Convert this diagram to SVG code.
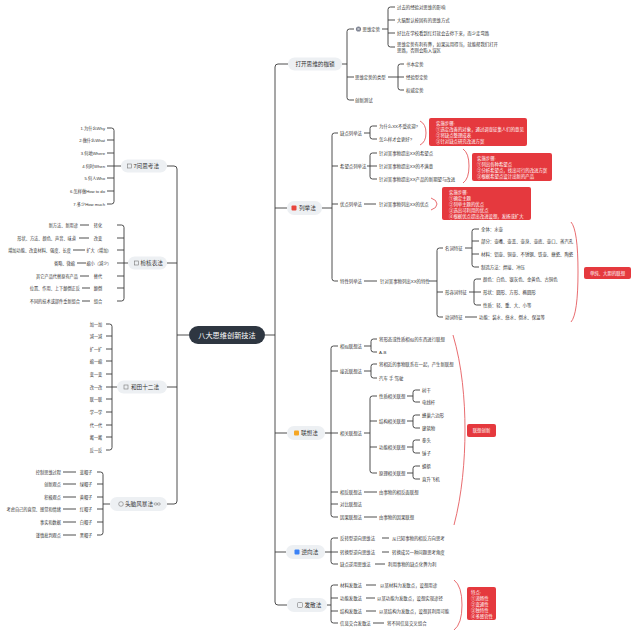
<svg xmlns="http://www.w3.org/2000/svg" width="640" height="642" viewBox="0 0 640 642">
<style>
text{font-family:"Liberation Sans","Noto Sans CJK SC",sans-serif;dominant-baseline:central;fill:#333}
.s{font-size:4.4px}
.sl{font-size:4.2px}
.n1{font-size:5.6px}
.e{text-anchor:end}
.m{text-anchor:middle}
.w{fill:#fff}
.c{fill:none;stroke:#3a3a3a;stroke-width:0.9}
.r{fill:none;stroke:#e2474b;stroke-width:0.8}
.pill{fill:#edf0f3}
.rb{fill:#e5393e}
.ic{fill:none;stroke:#777;stroke-width:0.6}
</style>
<rect width="640" height="642" fill="#fff"/>
<g id="connectors">
<path class="c" d="M265,335 H275 M288,64 H278 Q275,64 275,67 V602 Q275,605 278,605 H287 M275,208 H287 M275,433 H287 M275,552 H286"/>
<path class="c" d="M342,64 H347 M354,29 H349.5 Q347,29 347,31.5 V97.5 Q347,100 349.5,100 H354 M347,77 H354"/>
<path class="c" d="M382,29 H388 M395,7 H390.5 Q388,7 388,9.5 V44.5 Q388,47 390.5,47 H395 M388,20 H395 M388,33 H395"/>
<path class="c" d="M388,77 H398 M404,64 H400.5 Q398,64 398,66.5 V87.5 Q398,90 400.5,90 H404 M398,77 H404"/>
<path class="c" d="M322,208 H332 M338,133 H334.5 Q332,133 332,135.5 V278.5 Q332,281 334.5,281 H338 M332,166 H338 M332,204 H338"/>
<path class="c" d="M364,133 H370 M377,126 H372.5 Q370,126 370,128.5 V136.5 Q370,139 372.5,139 H377"/>
<path class="c" d="M367,166 H370 M377,153 H372.5 Q370,153 370,155.5 V176.5 Q370,179 372.5,179 H377 M370,166 H377"/>
<path class="c" d="M364,204 H376"/>
<path class="c" d="M364,281 H377 M429,281 H437 M443,248 H439.5 Q437,248 437,250.5 V314.5 Q437,317 439.5,317 H443 M437,292 H443"/>
<path class="c" d="M465,248 H472 M479,229 H474.5 Q472,229 472,231.5 V264.5 Q472,267 474.5,267 H479 M472,241 H479 M472,254 H479"/>
<path class="c" d="M469,292 H474 M481,279 H476.5 Q474,279 474,281.5 V302.5 Q474,305 476.5,305 H481 M474,292 H481"/>
<path class="c" d="M465,317 H477"/>
<path class="c" d="M325,433 H331 M338,346 H333.5 Q331,346 331,348.5 V514.5 Q331,517 333.5,517 H338 M331,371 H338 M331,433 H338 M331,492 H338 M331,504 H338"/>
<path class="c" d="M364,346 H371 M377,339 H373.5 Q371,339 371,341.5 V349.5 Q371,352 373.5,352 H377"/>
<path class="c" d="M364,371 H371 M377,364 H373.5 Q371,364 371,366.5 V375.5 Q371,378 373.5,378 H377"/>
<path class="c" d="M364,433 H370 M377,396 H372.5 Q370,396 370,398.5 V470.5 Q370,473 372.5,473 H377 M370,421 H377 M370,447 H377"/>
<path class="c" d="M407,396 H413 M420,390 H415.5 Q413,390 413,392.5 V399.5 Q413,402 415.5,402 H420"/>
<path class="c" d="M407,421 H413 M420,415 H415.5 Q413,415 413,417.5 V425.5 Q413,428 415.5,428 H420"/>
<path class="c" d="M407,447 H413 M420,440 H415.5 Q413,440 413,442.5 V450.5 Q413,453 415.5,453 H420"/>
<path class="c" d="M407,473 H413 M420,466 H415.5 Q413,466 413,468.5 V476.5 Q413,479 415.5,479 H420"/>
<path class="c" d="M364,492 H377 M364,517 H377"/>
<path class="c" d="M325,552 H331 M338,538 H333.5 Q331,538 331,540.5 V561.5 Q331,564 333.5,564 H338 M331,552 H338 M382,538 H389 M382,552 H389 M375,564 H385"/>
<path class="c" d="M327,605 H331 M338,585 H333.5 Q331,585 331,587.5 V620.5 Q331,623 333.5,623 H338 M331,598 H338 M331,611 H338 M366,585 H376 M366,598 H375 M366,611 H376 M373,623 H384"/>
<path class="c" d="M189,335 H177 M167,166 H174 Q177,166 177,169 V501 Q177,504 174,504 H167 M177,263 H167 M177,387 H167"/>
<path class="c" d="M121,166 H107 M107,128 H111.5 Q114,128 114,130.5 V201.5 Q114,204 111.5,204 H107 M114,140 H107 M114,153 H107 M114,178 H107 M114,191 H107"/>
<path class="c" d="M128,263 H117 M117,225 H121.5 Q124,225 124,227.5 V298.5 Q124,301 121.5,301 H117 M124,238 H117 M124,250 H117 M124,276 H117 M124,288 H117"/>
<path class="c" d="M80,225 H89 M79,238 H89 M73,250 H85 M77,263 H86 M80,276 H89 M82,288 H90 M82,301 H90"/>
<path class="c" d="M117,387 H106 M106,324 H109.5 Q112,324 112,326.5 V447.5 Q112,450 109.5,450 H106 M112,336 H106 M112,349 H106 M112,361 H106 M112,374 H106 M112,399 H106 M112,412 H106 M112,425 H106 M112,437 H106"/>
<path class="c" d="M110,504 H103 M97,472 H100.5 Q103,472 103,474.5 V532.5 Q103,535 100.5,535 H97 M103,484 H97 M103,497 H97 M103,509 H97 M103,522 H97"/>
<path class="c" d="M63,472 H76 M63,484 H76 M63,497 H76 M63,509 H76 M63,522 H76 M63,535 H76"/>
<path class="r" d="M420,121 Q426,124 426,133 Q426,142 420,145"/>
<path class="r" d="M463,149 Q469,153 469,166 Q469,179 463,183"/>
<path class="r" d="M431,198 Q437,200 437,204 Q437,208 431,210"/>
<path class="r" d="M571,222 Q578,230 578,272 Q578,314 571,322"/>
<path class="r" d="M453,335 C462,365 465,400 465,430 C465,460 462,495 454,525"/>
<path class="r" d="M454,580 Q462,586 462,605 Q462,624 454,630"/>
</g>
<g id="center"><rect x="189" y="326" width="76" height="18" rx="9" fill="#2e3641"/><text class="w m" x="227" y="335" style="font-size:7.2px">八大思维创新技法</text></g>
<g id="n-open"><rect class="pill" x="288" y="57.5" width="54" height="13" rx="6.5"/><text class="n1 m" x="315" y="64">打开思维的枷锁</text>
<circle cx="358.5" cy="29" r="2.6" fill="#7b8190"/><path d="M357.2,27.7 L359.8,30.3 M359.8,27.7 L357.2,30.3" stroke="#fff" stroke-width="0.6"/>
<text class="s" x="362.5" y="29">思维定势</text>
<text class="s" x="397" y="7">过去的经验对思维的影响</text>
<text class="s" x="397" y="20">大脑默认按固有的思维方式</text>
<text class="s" x="397" y="33">好比在学校看到红灯就会去停下来，而少走弯路</text>
<text class="s" x="397" y="44">思维定势有利有弊，如果运用得当，就能帮我们打开</text>
<text class="s" x="397" y="50.5">思路，否则会陷入误区</text>
<text class="s" x="355" y="77">思维定势的类型</text>
<text class="s" x="406" y="64">书本定势</text><text class="s" x="406" y="77">经验型定势</text><text class="s" x="406" y="90">权威定势</text>
<text class="s" x="355" y="100">创新测试</text></g>
<g id="n-list"><rect class="pill" x="287" y="201" width="35" height="14" rx="7"/><rect x="291.5" y="205.5" width="5" height="5" rx="1" fill="#e8453c"/><text class="n1" x="299" y="208">列举法</text>
<text class="s" x="340" y="133">缺点列举法</text>
<text class="s" x="379" y="126">为什么XX不受欢迎?</text><text class="s" x="379" y="139">怎么样才会更好?</text>
<rect class="rb" x="429" y="118" width="98" height="28" rx="2"/>
<text class="s w" x="436" y="123">实施步骤:</text><text class="s w" x="436" y="129">①选定改善的对象，通过调查征集人们的意见</text><text class="s w" x="436" y="135">②将缺点整理成表</text><text class="s w" x="436" y="141">③针对缺点研究改进方案</text>
<text class="s" x="340" y="166">希望点列举法</text>
<text class="s" x="379" y="153">针对某事物提出XX的希望点</text><text class="s" x="379" y="166">针对某事物提出XX的不满意</text><text class="s" x="379" y="179">针对某事物提出XX产品的新期望与改进</text>
<rect class="rb" x="472" y="153" width="80" height="28" rx="2"/>
<text class="s w" x="477" y="158">实施步骤:</text><text class="s w" x="477" y="164">①列出各种希望点</text><text class="s w" x="477" y="170">②分析希望点，找出可行的改进方案</text><text class="s w" x="477" y="176">③根据希望点设计出新的产品</text>
<text class="s" x="340" y="204">优点列举法</text>
<text class="s" x="379" y="204">针对某事物列出XX的优点</text>
<rect class="rb" x="442" y="187" width="89" height="33" rx="2"/>
<text class="s w" x="449" y="192">实施步骤:</text><text class="s w" x="449" y="198">①确定主题</text><text class="s w" x="449" y="204">②列举主题的优点</text><text class="s w" x="449" y="210">③选出可利用的优点</text><text class="s w" x="449" y="216">④根据优点提出改进设想，发扬或扩大</text>
<text class="s" x="340" y="281">特性列举法</text>
<text class="s" x="380" y="281">针对某事物列出XX的特性</text>
<text class="s" x="445" y="248">名词特征</text><text class="s" x="445" y="292">形容词特征</text><text class="s" x="445" y="317">动词特征</text>
<text class="s" x="481" y="229">全体：水壶</text><text class="s" x="481" y="241">部分：壶嘴、壶盖、壶身、壶底、壶口、蒸汽孔</text><text class="s" x="481" y="254">材料：铝壶、铜壶、不锈钢、铁壶、搪瓷、陶瓷</text><text class="s" x="481" y="267">制造方法：焊接、冲压</text>
<text class="s" x="483" y="279">颜色：白色、银灰色、金黄色、古铜色</text><text class="s" x="483" y="292">形状：圆形、方形、椭圆形</text><text class="s" x="483" y="305">性质：轻、重、大、小等</text>
<text class="s" x="479" y="317">功能：装水、烧水、倒水、保温等</text>
<rect class="rb" x="584" y="267" width="47" height="12" rx="2"/><text class="s w m" x="607.5" y="273">单纯、大胆的联想</text></g>
<g id="n-assoc"><rect class="pill" x="287" y="426" width="38" height="14" rx="7"/><rect x="294" y="430.5" width="5" height="5" rx="1" fill="#f5a623"/><text class="n1" x="301" y="433">联想法</text>
<text class="s" x="340" y="346">相似联想法</text><text class="s" x="379" y="339">将形态或性质相似的东西进行联想</text><text class="s" x="379" y="352">A-B</text>
<text class="s" x="340" y="371">接近联想法</text><text class="s" x="379" y="364">将相近的事物联系在一起，产生新联想</text><text class="s" x="379" y="378">汽车 手 驾驶</text>
<text class="s" x="340" y="433">相关联想法</text>
<text class="s" x="379" y="396">性质相关联想</text><text class="s" x="422" y="390">树干</text><text class="s" x="422" y="402">电线杆</text>
<text class="s" x="379" y="421">结构相关联想</text><text class="s" x="422" y="415">蜂巢六边形</text><text class="s" x="422" y="428">建筑物</text>
<text class="s" x="379" y="447">功能相关联想</text><text class="s" x="422" y="440">拳头</text><text class="s" x="422" y="453">锤子</text>
<text class="s" x="379" y="473">原理相关联想</text><text class="s" x="422" y="466">蜻蜓</text><text class="s" x="422" y="479">直升飞机</text>
<text class="s" x="340" y="492">相反联想法</text><text class="s" x="379" y="492">由事物的相反面联想</text>
<text class="s" x="340" y="504">对比联想法</text>
<text class="s" x="340" y="517">因果联想法</text><text class="s" x="379" y="517">由事物的因果联想</text>
<rect class="rb" x="467" y="424" width="29" height="13" rx="2"/><text class="s w m" x="481.5" y="430.5">联想创新</text></g>
<g id="n-reverse"><rect class="pill" x="286" y="545" width="39" height="14" rx="7"/><rect x="294.5" y="549.5" width="5" height="5" rx="1" fill="#3b82f6"/><text class="n1" x="301.5" y="552">逆向法</text>
<text class="s" x="340" y="538">反转型逆向思维法</text><text class="s" x="392" y="538">从已知事物的相反方向思考</text>
<text class="s" x="340" y="552">转换型逆向思维法</text><text class="s" x="392" y="552">转换成另一种问题思考角度</text>
<text class="s" x="340" y="564">缺点逆用思维法</text><text class="s" x="388" y="564">利用事物的缺点化弊为利</text></g>
<g id="n-diverge"><rect class="pill" x="287" y="598" width="40" height="14" rx="7"/><rect class="ic" x="297.5" y="602.5" width="5" height="5" rx="1"/><text class="n1" x="304.5" y="605">发散法</text>
<text class="s" x="340" y="585">材料发散法</text><text class="s" x="380" y="585">以某材料为发散点，设想用途</text>
<text class="s" x="340" y="598">功能发散法</text><text class="s" x="377" y="598">以某功能为发散点，设想实现途径</text>
<text class="s" x="340" y="611">结构发散法</text><text class="s" x="379" y="611">以某结构为发散点，设想其利用可能</text>
<text class="s" x="340" y="623">信息交合发散法</text><text class="s" x="387" y="623">将不同信息交叉组合</text>
<rect class="rb" x="467" y="587" width="29" height="33" rx="2"/>
<text class="s w" x="471" y="592.5">特点:</text><text class="s w" x="471" y="598.5">①流畅性</text><text class="s w" x="471" y="604.5">②变通性</text><text class="s w" x="471" y="610.5">③独特性</text><text class="s w" x="471" y="616.5">④多感官性</text></g>
<g id="n-7q"><rect class="pill" x="121" y="159.5" width="46" height="13" rx="6.5"/><rect class="ic" x="127.5" y="164" width="4" height="4"/><text class="n1" x="133.5" y="166">7问思考法</text>
<text class="sl e" x="105" y="128">1.为什么Why</text><text class="sl e" x="105" y="140">2.做什么What</text><text class="sl e" x="105" y="153">3.何地Where</text><text class="sl e" x="105" y="166">4.何时When</text><text class="sl e" x="105" y="178">5.何人Who</text><text class="sl e" x="105" y="191">6.怎样做How to do</text><text class="sl e" x="105" y="204">7.多少How much</text></g>
<g id="n-check"><rect class="pill" x="128" y="256.5" width="39" height="13" rx="6.5"/><rect class="ic" x="134.5" y="261" width="4" height="4"/><text class="n1" x="140.5" y="263">检核表法</text>
<text class="sl e" x="78" y="225">新方法、新用途</text><text class="sl m" x="98" y="225">转化</text>
<text class="sl e" x="76" y="238">形状、方法、颜色、声音、味道</text><text class="sl m" x="98" y="238">改变</text>
<text class="sl e" x="71" y="250">增加功能、改变材料、强度、长度</text><text class="sl m" x="99" y="250">扩大（增加）</text>
<text class="sl e" x="75" y="263">省略、微缩</text><text class="sl m" x="99" y="263">缩小（减少）</text>
<text class="sl e" x="78" y="276">其它产品代替原有产品</text><text class="sl m" x="98" y="276">替代</text>
<text class="sl e" x="80" y="288">位置、作用、上下颠倒正反</text><text class="sl m" x="98" y="288">颠倒</text>
<text class="sl e" x="80" y="301">不同的技术或部件重新组合</text><text class="sl m" x="98" y="301">组合</text></g>
<g id="n-hetian"><rect class="pill" x="117" y="380.5" width="50" height="13" rx="6.5"/><rect class="ic" x="124" y="385" width="4" height="4"/><text class="n1" x="131" y="387">和田十二法</text>
<text class="sl m" x="96" y="324">加一加</text><text class="sl m" x="96" y="336">减一减</text><text class="sl m" x="96" y="349">扩一扩</text><text class="sl m" x="96" y="361">缩一缩</text><text class="sl m" x="96" y="374">变一变</text><text class="sl m" x="96" y="387">改一改</text><text class="sl m" x="96" y="399">联一联</text><text class="sl m" x="96" y="412">学一学</text><text class="sl m" x="96" y="425">代一代</text><text class="sl m" x="96" y="437">搬一搬</text><text class="sl m" x="96" y="450">反一反</text></g>
<g id="n-brain"><rect class="pill" x="110" y="497" width="57" height="14" rx="7"/><circle class="ic" cx="121" cy="504" r="2.3"/><text class="n1" x="125" y="504">头脑风暴法</text>
<ellipse class="ic" cx="155.6" cy="504" rx="1.6" ry="1.1"/><ellipse class="ic" cx="158.8" cy="504" rx="1.6" ry="1.1"/>
<text class="sl e" x="61" y="472">控制思维过程</text><text class="sl m" x="86" y="472">蓝帽子</text>
<text class="sl e" x="61" y="484">创新观点</text><text class="sl m" x="86" y="484">绿帽子</text>
<text class="sl e" x="61" y="497">积极观点</text><text class="sl m" x="86" y="497">黄帽子</text>
<text class="sl e" x="61" y="509">考虑自己的直觉、感觉和情绪</text><text class="sl m" x="86" y="509">红帽子</text>
<text class="sl e" x="61" y="522">事实和数据</text><text class="sl m" x="86" y="522">白帽子</text>
<text class="sl e" x="61" y="535">谨慎批判观点</text><text class="sl m" x="86" y="535">黑帽子</text></g>
</svg>
